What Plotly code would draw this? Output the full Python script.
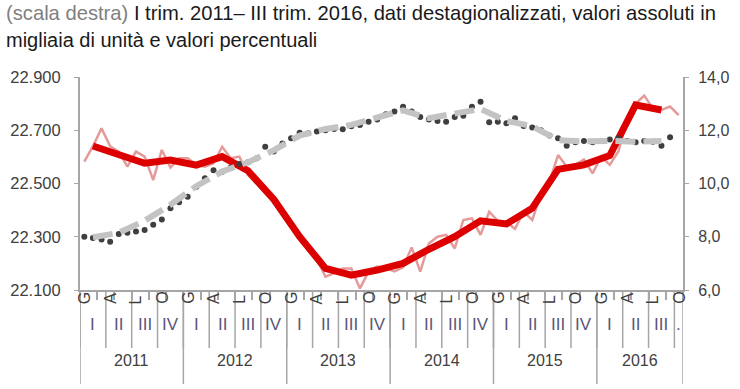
import plotly.graph_objects as go

# ---------------- data ----------------
years = [2011, 2012, 2013, 2014, 2015, 2016]
month_letters = ["G", "", "", "A", "", "", "L", "", "", "O", "", ""]
quarter_labels = ["I", "II", "III", "IV"]
last_quarter_label = "."
n_months = 70  # Jan 2011 - Oct 2016
months = [f"{y}-{m:02d}" for y in years for m in range(1, 13)][:n_months]

# employed persons, thousands (left axis) - monthly
occupati_mensili = [
    22582, 22640, 22707, 22640, 22620, 22563, 22620, 22601, 22513, 22626, 22560, 22595,
    22595, 22570, 22563, 22576, 22638, 22595, 22601, 22532, 22500, 22480, 22440, 22400,
    22340, 22300, 22260, 22215, 22150, 22163, 22181, 22181, 22106, 22169, 22188, 22181,
    22170, 22185, 22260, 22169, 22275, 22300, 22307, 22256, 22363, 22369, 22307, 22394,
    22360, 22355, 22330, 22394, 22363, 22457, 22507, 22607, 22563, 22570, 22590, 22538,
    22601, 22570, 22620, 22740, 22800, 22830, 22782, 22776, 22789, 22757,
]
# employed persons - quarterly (I 2011 - III 2016)
occupati_trimestrali = [
    22641, 22610, 22576, 22588,
    22569, 22601, 22548, 22440,
    22300, 22181, 22156, 22175,
    22200, 22253, 22300, 22360,
    22348, 22407, 22553, 22570,
    22605, 22795, 22776,
]
# unemployment rate, % (right axis) - monthly
disoccupazione_mensile = [
    8.0, 7.95, 7.9, 7.81, 8.1, 8.15, 8.2, 8.25, 8.45, 8.65, 9.07, 9.3,
    9.5, 9.88, 10.2, 10.5, 10.44, 10.6, 10.73, 10.8, 10.95, 11.38, 11.2, 11.5,
    11.7, 11.91, 11.89, 11.95, 12.0, 12.05, 12.04, 12.15, 12.2, 12.32, 12.4, 12.6,
    12.7, 12.88, 12.7, 12.5, 12.4, 12.35, 12.32, 12.5, 12.54, 12.88, 13.07, 12.3,
    12.32, 12.26, 12.45, 12.16, 12.1, 12.0, 11.8, 11.7, 11.42, 11.55, 11.6, 11.55,
    11.6, 11.65, 11.7, 11.6, 11.55, 11.6, 11.57, 11.42, 11.74, None,
]
# unemployment rate - quarterly
disoccupazione_trimestrale = [
    7.98, 8.15, 8.6, 9.2,
    9.9, 10.45, 10.8, 11.25,
    11.8, 12.05, 12.2, 12.45,
    12.75, 12.45, 12.65, 12.8,
    12.35, 12.15, 11.63, 11.58,
    11.6, 11.57, 11.6,
]

left_ticks = [22100, 22300, 22500, 22700, 22900]
right_ticks = [6, 8, 10, 12, 14]

title_line1_gray = "(scala destra)"
title_line1 = " I trim. 2011– III trim. 2016, dati destagionalizzati, valori assoluti in"
title_line2 = "migliaia di unità e valori percentuali"

# ---------------- styles ----------------
FONT = "Liberation Sans Narrow, Arial Narrow, Liberation Sans, Arial, sans-serif"
AXIS_COLOR = "#a6a6a6"
TEXT_COLOR = "#404040"

W, H = 740, 389
L, R, T, B = 80, 57, 77, 99
plot_w = W - L - R
plot_h = H - T - B


def py(pixel_y):
    """pixel row (from top of figure) -> paper y"""
    return (H - B - pixel_y) / plot_h


def px(pixel_x):
    """pixel column (from left of figure) -> paper x"""
    return (pixel_x - L) / plot_w


quarter_x = months[1::3]

fig = go.Figure()
fig.add_trace(go.Scatter(
    x=months, y=disoccupazione_mensile, yaxis="y2", mode="markers",
    marker=dict(size=6, color="#3f3f3f"), hoverinfo="skip", showlegend=False))
fig.add_trace(go.Scatter(
    x=quarter_x, y=disoccupazione_trimestrale, yaxis="y2", mode="lines",
    line=dict(color="#c3c3c3", width=6, dash="20px,8px"), showlegend=False))
fig.add_trace(go.Scatter(
    x=months, y=occupati_mensili, mode="lines",
    line=dict(color="#e59a9a", width=2.5), showlegend=False))
fig.add_trace(go.Scatter(
    x=quarter_x, y=occupati_trimestrali, mode="lines",
    line=dict(color="#dc0000", width=7), showlegend=False))

annotations = []
shapes = []
# title (two lines)
annotations.append(dict(x=px(4), y=py(13), xref="paper", yref="paper", xanchor="left",
                        yanchor="middle", showarrow=False,
                        text=f"<span style='color:#7f7f7f'>{title_line1_gray}</span>{title_line1}",
                        font=dict(family=FONT, size=20.2, color="#1a1a1a")))
annotations.append(dict(x=px(4), y=py(40), xref="paper", yref="paper", xanchor="left",
                        yanchor="middle", showarrow=False, text=title_line2,
                        font=dict(family=FONT, size=20, color="#1a1a1a")))
# month letters
for i, m in enumerate(months):
    letter = month_letters[i % 12]
    if letter:
        annotations.append(dict(x=m, y=py(306), xref="x", yref="paper", text=letter,
                                textangle=-90, showarrow=False,
                                font=dict(family=FONT, size=16, color=TEXT_COLOR)))
# quarter labels and separators
n_q = (n_months + 2) // 3
for q in range(n_q):
    start = 3 * q
    end = min(3 * q + 2, n_months - 1)
    label = quarter_labels[q % 4] if end - start == 2 else last_quarter_label
    annotations.append(dict(x=(start + end) / 2, y=py(336), xref="x", yref="paper",
                            text=label, showarrow=False,
                            font=dict(family=FONT, size=17, color="#5a5678")))
    shapes.append(dict(type="line", xref="x", yref="paper", x0=start - 0.5, x1=start - 0.5,
                       y0=0, y1=py(348), line=dict(color=AXIS_COLOR, width=1.5)))
# year labels and separators
for k, y in enumerate(years):
    start = 12 * k
    end = min(12 * k + 11, n_months - 1)
    annotations.append(dict(x=(start + end) / 2, y=py(371), xref="x", yref="paper",
                            text=str(y), showarrow=False,
                            font=dict(family=FONT, size=16, color=TEXT_COLOR)))
    shapes.append(dict(type="line", xref="x", yref="paper", x0=start - 0.5, x1=start - 0.5,
                       y0=0, y1=py(384), line=dict(color=AXIS_COLOR, width=1.5)))
shapes.append(dict(type="line", xref="x", yref="paper", x0=n_months - 0.5, x1=n_months - 0.5,
                   y0=0, y1=py(384), line=dict(color=AXIS_COLOR, width=1.5)))

fig.update_layout(
    width=W, height=H,
    margin=dict(l=L, r=R, t=T, b=B, autoexpand=False),
    paper_bgcolor="white", plot_bgcolor="white",
    separators=",.",
    hovermode=False,
    xaxis=dict(type="category", categoryorder="array", categoryarray=months,
               range=[-0.5, n_months - 0.5], showticklabels=False, automargin=False,
               ticks="outside", tickson="boundaries", ticklen=8, tickwidth=1.5,
               tickcolor=AXIS_COLOR, showline=True, linecolor=AXIS_COLOR, linewidth=2,
               showgrid=False, zeroline=False, fixedrange=True),
    yaxis=dict(range=[22100, 22900], tickvals=left_ticks, tickformat=",d", automargin=False,
               ticks="outside", ticklen=4, tickcolor=AXIS_COLOR, ticklabelstandoff=10,
               showline=True, linecolor=AXIS_COLOR, linewidth=2,
               showgrid=False, zeroline=False,
               tickfont=dict(family=FONT, size=16.5, color=TEXT_COLOR)),
    yaxis2=dict(range=[6, 14], tickvals=right_ticks, tickformat=".1f", automargin=False,
                overlaying="y", side="right",
                ticks="outside", ticklen=4, tickcolor=AXIS_COLOR, ticklabelstandoff=6,
                showline=True, linecolor=AXIS_COLOR, linewidth=2,
                showgrid=False, zeroline=False,
                tickfont=dict(family=FONT, size=16, color=TEXT_COLOR)),
    annotations=annotations,
    shapes=shapes,
)

fig.write_html("out.html", config={"displayModeBar": False},
               post_script="document.body.style.margin='0px';")
